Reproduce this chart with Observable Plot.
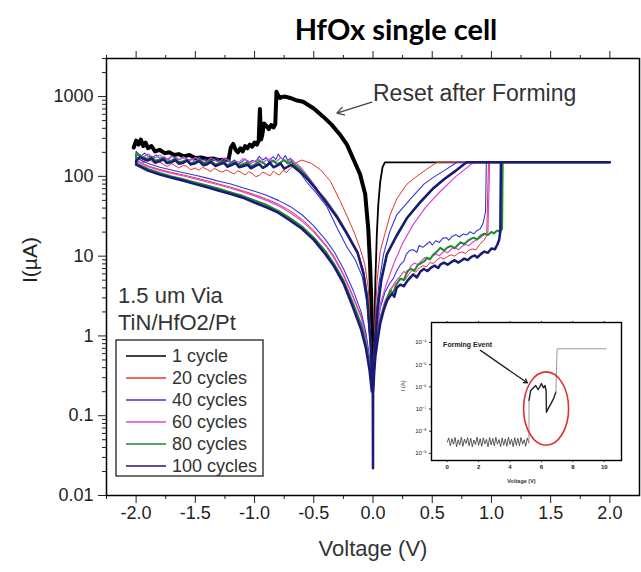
<!DOCTYPE html>
<html><head><meta charset="utf-8">
<script src="https://cdn.jsdelivr.net/npm/d3@7"></script>
<script src="https://cdn.jsdelivr.net/npm/@observablehq/plot@0.6"></script>
<style>
body{margin:0;background:#fff}
#wrap{position:relative;width:641px;height:572px;overflow:hidden}
#title{height:40px;position:relative;font-family:Lato,"Open Sans",sans-serif;font-weight:700;font-size:29px;color:#000}
#title span{position:absolute;left:396px;top:28px;transform:translate(-50%,-50%);white-space:nowrap}
#inset{position:absolute;left:391px;top:320px}
</style>
</head><body>
<div id="wrap"><div id="title"><span>HfOx single cell</span></div><div id="main"></div><div id="inset"></div></div>
<script>
// ---------- axes / labels ----------
const xTickValues = [-2, -1.5, -1, -0.5, 0, 0.5, 1, 1.5, 2];
const xTickLabels = ["-2.0", "-1.5", "-1.0", "-0.5", "0.0", "0.5", "1.0", "1.5", "2.0"];
const xMinorTicks = [-2.25, -1.75, -1.25, -0.75, -0.25, 0.25, 0.75, 1.25, 1.75];
const yTickValues = [0.01, 0.1, 1, 10, 100, 1000];
const yTickLabels = ["0.01", "0.1", "1", "10", "100", "1000"];
const seriesNames = ["1 cycle", "20 cycles", "40 cycles", "60 cycles", "80 cycles", "100 cycles"];
const seriesColors = ["#000000", "#e3342f", "#3636d8", "#dc44dc", "#1e8c2a", "#1a1a78"];
const seriesWidths = [1.8, 1, 1.1, 1.2, 2, 2.5];
const noteLines = ["1.5 um Via", "TiN/HfO2/Pt"];
const resetLabel = [{V: 0.0, I: 1100, text: "Reset after Forming"}];
const resetArrow = [{V1: -0.01, I1: 850, V2: -0.305, I2: 620}];

// ---------- 1 cycle (black) ----------
const resetAfterForming = [[-2.02,230],[-2.0,280],[-1.98,250],[-1.96,290],[-1.94,240],[-1.92,265],[-1.9,225],[-1.87,240],[-1.84,205],[-1.8,215],[-1.76,195],[-1.72,200],[-1.68,185],[-1.64,190],[-1.6,178],[-1.55,185],[-1.5,170],[-1.45,172],[-1.4,165],[-1.35,168],[-1.3,160],[-1.25,162],[-1.22,160],[-1.2,230],[-1.18,255],[-1.16,215],[-1.14,200],[-1.12,225],[-1.1,205],[-1.08,240],[-1.06,225],[-1.04,250],[-1.02,235],[-1.0,265],[-0.98,250],[-0.965,280],[-0.955,700],[-0.945,290],[-0.935,330],[-0.92,460],[-0.9,430],[-0.88,390],[-0.86,440],[-0.84,410],[-0.825,450],[-0.815,1150],[-0.8,1030],[-0.785,960],[-0.77,990],[-0.74,1000],[-0.7,960],[-0.65,900],[-0.59,860],[-0.5,710],[-0.42,560],[-0.35,445],[-0.28,335],[-0.22,250],[-0.17,170],[-0.11,107],[-0.066,60],[-0.04,22],[-0.025,8],[-0.015,3],[-0.008,1],[-0.003,0.35]];
const set1 = [[0.003,0.3],[0.01,1],[0.02,5],[0.033,20],[0.045,45],[0.061,85],[0.08,130],[0.1,150],[2.0,150]];

// ---------- 20 cycles (red) ----------
const c20NegLRS = [[-0.005,0.3],[-0.02,1],[-0.04,4],[-0.07,8],[-0.11,12.6],[-0.16,20],[-0.22,32],[-0.28,50],[-0.36,87],[-0.44,120],[-0.52,145],[-0.6,160],[-0.65,148],[-0.7,125],[-0.73,112],[-0.76,119],[-0.79,104],[-0.82,110],[-0.84,116],[-0.87,101],[-0.9,108],[-0.93,113],[-0.96,103],[-0.99,99],[-1.02,109],[-1.05,114],[-1.08,104],[-1.11,111],[-1.14,118],[-1.17,107],[-1.2,112],[-1.24,121],[-1.27,113],[-1.3,117],[-1.34,126],[-1.37,115],[-1.4,122],[-1.44,130],[-1.47,119],[-1.5,127],[-1.54,121],[-1.57,133],[-1.6,138],[-1.64,127],[-1.67,136],[-1.7,144],[-1.74,133],[-1.77,141],[-1.8,152],[-1.84,143],[-1.87,155],[-1.9,162],[-1.94,149],[-1.97,166],[-2.0,175]];
const c20NegHRS = [[-2.0,160],[-1.9,135],[-1.8,122],[-1.7,112],[-1.6,104],[-1.5,96],[-1.4,88],[-1.3,80],[-1.2,73],[-1.1,66],[-1.0,59],[-0.9,52],[-0.8,45],[-0.7,37],[-0.6,29],[-0.5,21],[-0.4,14],[-0.33,10],[-0.25,6],[-0.17,3.2],[-0.1,1.8],[-0.06,1.0],[-0.03,0.5],[-0.01,0.25]];
const c20Pos = [[0.002,0.22],[0.01,0.45],[0.03,0.9],[0.06,1.6],[0.1,2.5],[0.14,3.5],[0.17,4.2],[0.2,4.6],[0.24,5.3],[0.27,5.0],[0.3,5.9],[0.33,6.6],[0.36,6.3],[0.39,7.1],[0.42,7.6],[0.45,7.3],[0.48,8.3],[0.51,8.1],[0.54,9.0],[0.57,9.6],[0.6,9.2],[0.63,9.9],[0.66,10.4],[0.69,10.0],[0.72,10.9],[0.75,11.3],[0.78,10.8],[0.81,11.9],[0.84,12.3],[0.87,12.0],[0.9,14],[0.93,15.4],[0.96,18],[0.975,150],[2.0,150],[0.54,150],[0.45,122],[0.37,100],[0.287,80],[0.2,52],[0.145,33],[0.1,19],[0.061,11.5],[0.035,5],[0.015,1.5],[0.004,0.4]];

// ---------- 40 cycles (blue) ----------
const c40NegLRS = [[-0.005,0.25],[-0.02,0.7],[-0.05,2.5],[-0.09,5.5],[-0.15,9],[-0.22,13],[-0.3,22],[-0.39,42],[-0.48,62],[-0.56,85],[-0.63,120],[-0.68,150],[-0.7,168],[-0.72,158],[-0.74,182],[-0.76,165],[-0.78,171],[-0.8,190],[-0.82,162],[-0.84,176],[-0.86,168],[-0.88,150],[-0.9,172],[-0.93,160],[-0.96,178],[-0.99,152],[-1.02,158],[-1.05,145],[-1.08,166],[-1.11,150],[-1.14,142],[-1.17,160],[-1.2,149],[-1.23,168],[-1.26,155],[-1.29,151],[-1.32,170],[-1.35,158],[-1.38,146],[-1.41,165],[-1.44,160],[-1.47,175],[-1.5,152],[-1.53,166],[-1.56,158],[-1.6,178],[-1.63,162],[-1.66,170],[-1.7,181],[-1.73,160],[-1.76,175],[-1.8,168],[-1.83,186],[-1.86,172],[-1.9,180],[-1.93,196],[-1.96,178],[-2.0,205]];
const c40NegHRS = [[-2.0,170],[-1.9,145],[-1.8,130],[-1.7,120],[-1.6,111],[-1.5,103],[-1.4,95],[-1.3,87],[-1.2,80],[-1.1,72],[-1.0,65],[-0.9,58],[-0.8,50],[-0.7,42],[-0.6,33],[-0.5,24],[-0.4,16],[-0.33,11.5],[-0.25,7],[-0.17,3.8],[-0.1,2],[-0.06,1.1],[-0.03,0.55],[-0.01,0.25]];
const c40Pos = [[0.002,0.25],[0.01,0.5],[0.03,1.2],[0.06,2.2],[0.1,3.5],[0.14,4.5],[0.173,5.3],[0.2,6.5],[0.23,7.8],[0.26,8.6],[0.28,10.5],[0.31,11.8],[0.34,12],[0.37,11.2],[0.39,13.6],[0.42,12.9],[0.45,14],[0.48,15.2],[0.5,13.8],[0.53,15.6],[0.56,14.9],[0.59,16.8],[0.62,17],[0.64,15.9],[0.67,17.8],[0.7,18.6],[0.73,17.4],[0.76,18.9],[0.79,18.5],[0.82,20.2],[0.85,19.0],[0.88,21],[0.906,22],[0.93,26],[0.95,36],[0.957,150],[2.0,150],[0.71,150],[0.6,118],[0.5,95],[0.43,80],[0.33,55],[0.2,33],[0.14,20],[0.089,10.5],[0.05,4.5],[0.025,1.8],[0.008,0.5]];

// ---------- 60 cycles (magenta) ----------
const c60NegLRS = [[-0.005,0.25],[-0.02,0.8],[-0.05,3],[-0.08,6.5],[-0.13,11.5],[-0.22,20],[-0.3,32],[-0.4,52],[-0.45,63],[-0.5,80],[-0.56,105],[-0.62,135],[-0.66,150],[-0.69,165],[-0.72,152],[-0.75,158],[-0.78,172],[-0.81,156],[-0.84,150],[-0.87,166],[-0.9,160],[-0.93,148],[-0.96,162],[-1.0,155],[-1.03,145],[-1.06,158],[-1.1,166],[-1.13,150],[-1.16,156],[-1.2,146],[-1.23,160],[-1.26,168],[-1.3,152],[-1.33,158],[-1.37,170],[-1.4,155],[-1.43,150],[-1.47,166],[-1.5,172],[-1.54,158],[-1.57,164],[-1.6,175],[-1.64,160],[-1.67,170],[-1.7,178],[-1.74,163],[-1.77,172],[-1.8,185],[-1.84,170],[-1.87,178],[-1.9,190],[-1.94,175],[-1.97,188],[-2.0,180]];
const c60NegHRS = [[-2.0,155],[-1.9,132],[-1.8,119],[-1.7,109],[-1.6,101],[-1.5,93],[-1.4,85],[-1.3,78],[-1.2,71],[-1.1,64],[-1.0,57],[-0.9,50],[-0.8,43],[-0.7,35],[-0.6,27.5],[-0.5,20],[-0.4,13.5],[-0.33,9.5],[-0.25,5.8],[-0.17,3.1],[-0.1,1.7],[-0.06,0.95],[-0.03,0.48],[-0.01,0.24]];
const c60Pos = [[0.002,0.22],[0.01,0.42],[0.03,0.95],[0.06,1.7],[0.1,2.7],[0.15,3.9],[0.2,5.0],[0.23,5.6],[0.26,6.4],[0.29,6.1],[0.32,7.5],[0.35,8.2],[0.38,7.8],[0.41,8.8],[0.44,9.6],[0.47,9.1],[0.5,9.9],[0.53,10.6],[0.56,10.1],[0.6,11.6],[0.63,11.0],[0.66,12.2],[0.69,12.8],[0.72,12.0],[0.75,13.2],[0.78,14.1],[0.81,13.5],[0.84,15.0],[0.87,15.8],[0.906,17],[0.94,18.5],[0.97,20],[0.985,150],[2.0,150],[0.85,150],[0.7,100],[0.57,65],[0.45,42],[0.34,25],[0.25,14.5],[0.173,7.9],[0.11,4.3],[0.061,2.5],[0.03,1.0],[0.008,0.35]];

// ---------- 80 cycles (green) ----------
const c80NegLRS = [[-0.005,0.25],[-0.02,0.8],[-0.05,3.2],[-0.08,6.2],[-0.13,11],[-0.22,19.5],[-0.3,31],[-0.4,50],[-0.45,61],[-0.5,76],[-0.56,100],[-0.62,125],[-0.66,140],[-0.69,152],[-0.72,145],[-0.75,160],[-0.78,150],[-0.81,142],[-0.84,158],[-0.87,150],[-0.9,138],[-0.93,148],[-0.96,155],[-1.0,140],[-1.03,134],[-1.06,150],[-1.1,142],[-1.13,136],[-1.16,152],[-1.2,145],[-1.23,138],[-1.26,155],[-1.3,148],[-1.33,140],[-1.37,158],[-1.4,150],[-1.43,145],[-1.47,162],[-1.5,152],[-1.54,146],[-1.57,163],[-1.6,155],[-1.64,150],[-1.67,168],[-1.7,158],[-1.74,152],[-1.77,170],[-1.8,162],[-1.84,158],[-1.87,175],[-1.9,166],[-1.94,172],[-1.97,185],[-2.0,190]];
const c80NegHRS = [[-2.0,145],[-1.9,124],[-1.8,110],[-1.7,100],[-1.6,92],[-1.5,84],[-1.4,77],[-1.3,70],[-1.2,63],[-1.1,57],[-1.0,50],[-0.9,44],[-0.8,37],[-0.7,30],[-0.6,23.5],[-0.5,17],[-0.4,11.5],[-0.33,8],[-0.25,5],[-0.17,2.6],[-0.1,1.4],[-0.06,0.8],[-0.03,0.42],[-0.01,0.22]];
const c80Pos = [[0.002,0.22],[0.01,0.4],[0.02,0.65],[0.04,1.1],[0.07,1.8],[0.1,2.5],[0.145,3.7],[0.17,3.5],[0.2,4.5],[0.23,5.2],[0.26,5.0],[0.29,6.5],[0.32,6.9],[0.35,6.6],[0.38,7.8],[0.41,8.2],[0.44,8.8],[0.456,9.6],[0.48,9.1],[0.51,10.5],[0.54,11.4],[0.568,12.7],[0.6,11.8],[0.63,12.9],[0.66,13.4],[0.69,12.6],[0.71,13.5],[0.74,14.9],[0.77,14.2],[0.8,15.5],[0.83,16.6],[0.85,17],[0.88,16.2],[0.91,18.2],[0.94,19.1],[0.97,18.4],[1.0,20.1],[1.02,19.3],[1.05,21],[1.07,20.2],[1.09,22],[1.095,150],[2.0,150],[0.79,150],[0.7,118],[0.6,92],[0.51,71],[0.4,47],[0.287,30],[0.2,18.5],[0.117,10.5],[0.07,5.2],[0.04,2.4],[0.02,1.0],[0.005,0.3]];

// ---------- 100 cycles (navy) ----------
const c100NegLRS = [[-0.005,0.25],[-0.02,0.8],[-0.05,3],[-0.08,6],[-0.13,11],[-0.22,19],[-0.3,30],[-0.4,48],[-0.45,60],[-0.5,75],[-0.56,95],[-0.62,115],[-0.66,128],[-0.69,140],[-0.72,132],[-0.75,125],[-0.78,145],[-0.81,136],[-0.84,130],[-0.87,148],[-0.9,135],[-0.93,128],[-0.96,142],[-1.0,133],[-1.03,126],[-1.06,140],[-1.1,134],[-1.13,130],[-1.16,146],[-1.2,137],[-1.23,132],[-1.26,148],[-1.3,140],[-1.33,135],[-1.37,152],[-1.4,142],[-1.43,138],[-1.47,155],[-1.5,146],[-1.54,141],[-1.57,158],[-1.6,148],[-1.64,144],[-1.67,160],[-1.7,150],[-1.74,147],[-1.77,163],[-1.8,155],[-1.84,150],[-1.87,168],[-1.9,158],[-1.94,165],[-1.97,175],[-2.0,155]];
const c100NegHRS = [[-2.0,140],[-1.9,118],[-1.8,105],[-1.7,96],[-1.6,88],[-1.5,80],[-1.4,73],[-1.3,66],[-1.2,60],[-1.1,54],[-1.0,47],[-0.9,41],[-0.8,35],[-0.7,28],[-0.6,22],[-0.5,16],[-0.4,10.5],[-0.33,7.5],[-0.25,4.6],[-0.17,2.3],[-0.1,1.2],[-0.06,0.7],[-0.03,0.38],[-0.01,0.2],[-0.002,0.2],[0,0.022],[0.001,0.2]];
const c100Pos = [[0.002,0.2],[0.01,0.35],[0.02,0.55],[0.04,0.9],[0.06,1.4],[0.09,2.1],[0.12,2.8],[0.16,3.4],[0.18,3.1],[0.2,4.0],[0.23,4.4],[0.26,4.2],[0.29,4.9],[0.32,5.5],[0.34,5.9],[0.37,5.4],[0.4,6.4],[0.43,6.9],[0.46,6.5],[0.49,7.2],[0.52,7.6],[0.55,7.1],[0.57,7.9],[0.6,8.3],[0.63,7.8],[0.66,8.4],[0.69,8.9],[0.72,8.3],[0.74,8.7],[0.77,9.3],[0.8,8.9],[0.83,9.8],[0.86,10.2],[0.88,9.6],[0.91,10.6],[0.94,11.4],[0.97,11.0],[1.0,12.5],[1.03,12.2],[1.05,14],[1.065,16],[1.075,20.5],[1.08,150],[2.0,150],[0.79,150],[0.7,118],[0.6,92],[0.51,71],[0.4,48],[0.287,30],[0.2,18],[0.117,10.5],[0.07,5],[0.04,2.2],[0.02,0.9],[0.005,0.3]];

// ---------- inset (forming) ----------
const insetXTicks = [0, 2, 4, 6, 8, 10];
const insetXLabels = ["0", "2", "4", "6", "8", "10"];
const insetYTicks = [1e-9, 1e-8, 1e-7, 1e-6, 1e-5, 1e-4];
const insetYLabels = ["10⁻⁹", "10⁻⁸", "10⁻⁷", "10⁻⁶", "10⁻⁵", "10⁻⁴"];
const formNoise = [[0,3.2e-9],[0.1,5.0e-9],[0.2,2.2e-9],[0.3,4.6e-9],[0.4,2.6e-9],[0.5,5.2e-9],[0.6,2.0e-9],[0.7,4.1e-9],[0.8,2.4e-9],[0.9,5.3e-9],[1.0,2.1e-9],[1.1,4.4e-9],[1.2,2.8e-9],[1.3,5.1e-9],[1.4,2.2e-9],[1.5,4.8e-9],[1.6,2.0e-9],[1.7,4.0e-9],[1.8,2.5e-9],[1.9,5.4e-9],[2.0,2.3e-9],[2.1,4.6e-9],[2.2,2.1e-9],[2.3,5.0e-9],[2.4,2.7e-9],[2.5,4.3e-9],[2.6,2.0e-9],[2.7,5.2e-9],[2.8,2.4e-9],[2.9,4.7e-9],[3.0,2.2e-9],[3.1,5.3e-9],[3.2,2.6e-9],[3.3,4.2e-9],[3.4,2.0e-9],[3.5,5.0e-9],[3.6,2.3e-9],[3.7,4.5e-9],[3.8,2.1e-9],[3.9,5.4e-9],[4.0,2.5e-9],[4.1,4.4e-9],[4.2,2.0e-9],[4.3,5.1e-9],[4.4,2.3e-9],[4.5,4.8e-9],[4.6,2.2e-9],[4.7,5.2e-9],[4.8,2.6e-9],[4.9,4.1e-9],[5.0,2.1e-9],[5.1,4.9e-9],[5.2,3.0e-9]];
const formRise = [[5.2,3.0e-9],[5.21,1.1e-8],[5.21,2.5e-7]];
const formEvent = [[5.21,2.5e-7],[5.32,6.9e-7],[5.45,8.5e-7],[5.64,1.15e-6],[5.79,7.4e-7],[6.0,1.4e-6],[6.13,9.1e-7],[6.23,1.15e-6],[6.3,6.5e-7],[6.32,7.2e-8],[6.45,1.1e-7],[6.6,1.7e-7],[6.78,3.0e-7],[6.92,5.8e-7]];
const formCompliance = [[6.92,5.8e-7],[7.0,5.2e-5],[10.13,5.2e-5]];
const formLabel = [{V: -0.26, I: 8e-5, text: "Forming Event"}];
const formArrow = [{V1: 2.12, I1: 4.4e-5, V2: 5.11, I2: 1.5e-6}];
const formCircle = [{V: 6.33, I: 1.0e-7}];

// ---------- build main chart ----------
const cycles = [
  [].concat(c20NegLRS, c20NegHRS, c20Pos),
  [].concat(c40NegLRS, c40NegHRS, c40Pos),
  [].concat(c60NegLRS, c60NegHRS, c60Pos),
  [].concat(c80NegLRS, c80NegHRS, c80Pos),
  [].concat(c100NegLRS, c100NegHRS, c100Pos)
];
const yMinor = [];
for (let k = -2; k <= 3; k++) for (let m = 2; m <= 9; m++) { const v = m * Math.pow(10, k); if (v <= 3000) yMinor.push(v); }

const font = "'Liberation Sans', Arial, sans-serif";
const lineMarks = [
  Plot.line(resetAfterForming, {x: d => d[0], y: d => d[1], stroke: "#000", strokeWidth: 4, strokeLinejoin: "round"}),
  Plot.line(set1, {x: d => d[0], y: d => d[1], stroke: "#000", strokeWidth: seriesWidths[0], strokeLinejoin: "round"})
];
cycles.forEach((c, i) => lineMarks.push(Plot.line(c, {x: d => d[0], y: d => d[1], stroke: seriesColors[i + 1], strokeWidth: seriesWidths[i + 1], strokeLinejoin: "round"})));

const chart = Plot.plot({
  width: 641, height: 532,
  marginTop: 18, marginBottom: 77, marginLeft: 106, marginRight: 2,
  style: {fontFamily: font, fontSize: "18px", color: "#222", background: "white"},
  x: {domain: [-2.25, 2.25], label: null},
  y: {type: "log", domain: [0.01, 3000], label: null},
  marks: [
    ...lineMarks,
    Plot.axisX(xTickValues, {anchor: "bottom", tickSize: 8, tickPadding: 3, tickFormat: d => xTickLabels[xTickValues.indexOf(d)], label: null, fontSize: 18}),
    Plot.axisX(xMinorTicks, {anchor: "bottom", tickSize: 4, tickFormat: () => "", label: null}),
    Plot.axisX(xTickValues, {anchor: "top", tickSize: 8, tickFormat: () => "", label: null}),
    Plot.axisX(xMinorTicks, {anchor: "top", tickSize: 4, tickFormat: () => "", label: null}),
    Plot.axisY(yTickValues, {anchor: "left", tickSize: 8, tickPadding: 5, tickFormat: d => yTickLabels[yTickValues.indexOf(d)], label: null, fontSize: 18}),
    Plot.axisY(yMinor, {anchor: "left", tickSize: 4, tickFormat: () => "", label: null}),
    Plot.frame({stroke: "black", strokeWidth: 1.5}),
    Plot.text(resetLabel, {x: "V", y: "I", text: "text", textAnchor: "start", fontSize: 23, fill: "#333"}),
    Plot.arrow(resetArrow, {x1: "V1", y1: "I1", x2: "V2", y2: "I2", stroke: "#444", strokeWidth: 1.3, headLength: 9}),
    Plot.text(["Voltage (V)"], {text: d => d, frameAnchor: "bottom", dy: 60, fontSize: 22, fill: "#333"}),
    Plot.text(["I(µA)"], {text: d => d, frameAnchor: "left", dx: -76, dy: 6, rotate: -90, fontSize: 21, fill: "#222"})
  ]
});
document.getElementById("main").appendChild(chart);

const svg = d3.select(chart);
// legend / notes (pixel layout inside the main svg)
const lg = svg.append("g").attr("font-family", font).attr("text-anchor", "start");
noteLines.forEach((t, i) => lg.append("text").attr("x", 118).attr("y", 255 + i * 27).attr("dominant-baseline", "central").attr("text-anchor", "start").attr("font-size", 22).attr("fill", "#333").text(t));
lg.append("rect").attr("x", 116).attr("y", 300).attr("width", 147).attr("height", 136).attr("fill", "white").attr("stroke", "#222").attr("stroke-width", 1.3);
seriesNames.forEach((t, i) => {
  const y = 316 + i * 22;
  lg.append("line").attr("x1", 126).attr("x2", 166).attr("y1", y).attr("y2", y).attr("stroke", seriesColors[i]).attr("stroke-width", 1.3);
  lg.append("text").attr("x", 172).attr("y", y).attr("dominant-baseline", "central").attr("text-anchor", "start").attr("font-size", 18).attr("fill", "#333").text(t);
});

// ---------- inset ----------
const inset = Plot.plot({
  width: 231, height: 180,
  marginLeft: 40, marginRight: 1, marginTop: 2, marginBottom: 40,
  style: {fontFamily: font, fontSize: "6px", background: "transparent", overflow: "visible", color: "#222"},
  x: {domain: [-1, 11.1], label: null},
  y: {type: "log", domain: [Math.pow(10, -9.32), Math.pow(10, -3.1)], label: null},
  marks: [
    Plot.frame({fill: "white", stroke: "none"}),
    Plot.line(formNoise, {x: d => d[0], y: d => d[1], stroke: "#333", strokeWidth: 0.8}),
    Plot.line(formRise, {x: d => d[0], y: d => d[1], stroke: "#999", strokeWidth: 1}),
    Plot.line(formEvent, {x: d => d[0], y: d => d[1], stroke: "#222", strokeWidth: 1.4}),
    Plot.line(formCompliance, {x: d => d[0], y: d => d[1], stroke: "#999", strokeWidth: 1}),
    Plot.axisX(insetXTicks, {anchor: "bottom", tickSize: 2, tickPadding: 2, tickFormat: d => insetXLabels[insetXTicks.indexOf(d)], label: null, fontSize: 6, fontWeight: "bold"}),
    Plot.axisX(insetXTicks, {anchor: "top", tickSize: 2, tickFormat: () => "", label: null}),
    Plot.axisY(insetYTicks, {anchor: "left", tickSize: 2, tickPadding: 3, tickFormat: d => insetYLabels[insetYTicks.indexOf(d)], label: null, fontSize: 6}),
    Plot.frame({stroke: "black", strokeWidth: 1.4}),
    Plot.text(formLabel, {x: "V", y: "I", text: "text", textAnchor: "start", fontSize: 7, fontWeight: "bold", fill: "#222"}),
    Plot.arrow(formArrow, {x1: "V1", y1: "I1", x2: "V2", y2: "I2", stroke: "#222", strokeWidth: 1.3, headLength: 5}),
    Plot.text(["Voltage (V)"], {text: d => d, frameAnchor: "bottom", dy: 22, dx: -5, fontSize: 5.5, fontWeight: "bold", fill: "#333"}),
    Plot.text(["I (A)"], {text: d => d, frameAnchor: "left", dx: -28, rotate: -90, fontSize: 6, fill: "#333"})
  ]
});
document.getElementById("inset").appendChild(inset);
const sx = inset.scale("x"), sy = inset.scale("y");
d3.select(inset).append("ellipse")
  .attr("cx", sx.apply(formCircle[0].V)).attr("cy", sy.apply(formCircle[0].I))
  .attr("rx", 22.5).attr("ry", 36.7)
  .attr("fill", "none").attr("stroke", "#e03030").attr("stroke-width", 1.6);
</script>
</body></html>
